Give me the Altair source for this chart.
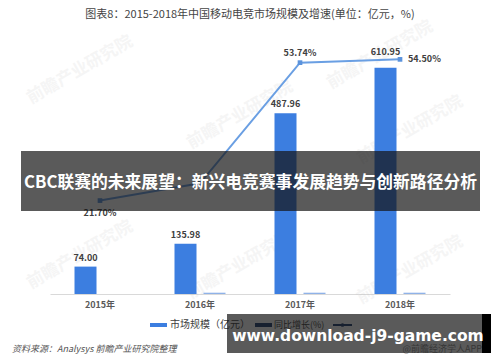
import altair as alt
import pandas as pd

years = ["2015年", "2016年", "2017年", "2018年"]
market = [74.00, 135.98, 487.96, 610.95]
market_labels = ["74.00", "135.98", "487.96", "610.95"]
growth = [21.70, 25.7, 53.74, 54.50]
growth_labels = ["21.70%", "", "53.74%", "54.50%"]
growth_bar = [0.0, 3.5, 3.5, 3.5]
series = ["市场规模（亿元）", "同比增长(%)"]

FONT = "Noto Sans CJK SC"

x_scale = alt.Scale(paddingInner=0.49, paddingOuter=0.245)
x_axis = alt.Axis(title=None, ticks=False, domainColor="#d9d9d9", labelColor="#595959",
                  labelFontSize=9, labelFontWeight="bold", labelPadding=6, labelFont=FONT,
                  grid=False, labelAngle=0)

bar_df = pd.DataFrame({
    "year": years * 2,
    "series": [series[0]] * 4 + [series[1]] * 4,
    "value": market + growth_bar,
})
mk_df = pd.DataFrame({"year": years, "value": market, "label": market_labels})
gr_df = pd.DataFrame({"year": years, "growth": growth, "label": growth_labels})

y_bar = alt.Scale(domain=[0, 686], nice=False, zero=True)
y_line = alt.Scale(domain=[0, 59], nice=False, zero=True)

bars = alt.Chart(bar_df).mark_bar().encode(
    x=alt.X("year:N", sort=years, scale=x_scale, axis=x_axis),
    xOffset=alt.XOffset("series:N", sort=series,
                        scale=alt.Scale(domain=series, paddingInner=0.241, paddingOuter=0)),
    y=alt.Y("value:Q", scale=y_bar, axis=None),
    color=alt.Color("series:N", scale=alt.Scale(domain=series, range=["#3c7ee0", "#8fb2e8"]),
                    legend=None),
)

mk_text = alt.Chart(mk_df).transform_filter(alt.datum.value < 600).mark_text(
    dx=-14.5, dy=-9, fontSize=9, fontWeight="bold", color="#404040", font=FONT, baseline="middle"
).encode(x=alt.X("year:N", sort=years, scale=x_scale, axis=x_axis),
         y=alt.Y("value:Q", scale=y_bar, axis=None), text="label:N")
mk_text2 = alt.Chart(mk_df).transform_filter(alt.datum.value >= 600).mark_text(
    dx=-14.5, dy=-16, fontSize=9, fontWeight="bold", color="#404040", font=FONT, baseline="middle"
).encode(x=alt.X("year:N", sort=years, scale=x_scale, axis=x_axis),
         y=alt.Y("value:Q", scale=y_bar, axis=None), text="label:N")

line = alt.Chart(gr_df).mark_line(color="#6a9fe3", strokeWidth=2).encode(
    x=alt.X("year:N", sort=years, scale=x_scale, axis=x_axis),
    y=alt.Y("growth:Q", scale=y_line, axis=None),
)
pts = alt.Chart(gr_df).mark_point(shape="square", filled=True, size=22, color="#5b93dc", opacity=1).encode(
    x=alt.X("year:N", sort=years, scale=x_scale, axis=x_axis),
    y=alt.Y("growth:Q", scale=y_line, axis=None),
)
gl_below = alt.Chart(gr_df).transform_filter(alt.datum.label == "21.70%").mark_text(
    dy=12, fontSize=9, fontWeight="bold", color="#404040", font=FONT, baseline="middle"
).encode(x=alt.X("year:N", sort=years, scale=x_scale, axis=x_axis),
         y=alt.Y("growth:Q", scale=y_line, axis=None), text="label:N")
gl_above = alt.Chart(gr_df).transform_filter(alt.datum.label == "53.74%").mark_text(
    dy=-10, fontSize=9, fontWeight="bold", color="#404040", font=FONT, baseline="middle"
).encode(x=alt.X("year:N", sort=years, scale=x_scale, axis=x_axis),
         y=alt.Y("growth:Q", scale=y_line, axis=None), text="label:N")
gl_right = alt.Chart(gr_df).transform_filter(alt.datum.label == "54.50%").mark_text(
    dx=8, fontSize=9, fontWeight="bold", color="#404040", font=FONT, baseline="middle", align="left"
).encode(x=alt.X("year:N", sort=years, scale=x_scale, axis=x_axis),
         y=alt.Y("growth:Q", scale=y_line, axis=None), text="label:N")

one = pd.DataFrame({"k": [0]})

def txt(s, x, y, **kw):
    return alt.Chart(one).mark_text(font=kw.pop("font", FONT), **kw).encode(
        x=alt.value(x), y=alt.value(y), text=alt.value(s))

def rect(x, x2, y, y2, **kw):
    return alt.Chart(one).mark_rect(**kw).encode(
        x=alt.value(x), x2=alt.value(x2), y=alt.value(y), y2=alt.value(y2))

title = txt("图表8：2015-2018年中国移动电竞市场规模及增速(单位：亿元，%)", 200, -25,
            fontSize=11, color="#444444", baseline="middle", align="center")

wm_pos = [(30, 30), (190, 75), (360, 90), (30, 215), (190, 225), (360, 230), (330, 15)]
watermarks = [txt("前瞻产业研究院", x, y, fontSize=17, angle=330, color="#b0b0b0", opacity=0.12,
                  baseline="middle", align="center", fontWeight="bold") for x, y in wm_pos]

leg = [
    rect(100, 117, 283, 287, color="#3c7ee0"),
    txt("市场规模（亿元）", 120, 285, fontSize=10, color="#404040", baseline="middle", align="left"),
    rect(205, 222, 283, 287, color="#1f3c6e"),
    txt("同比增长(%)", 224, 285, fontSize=9, color="#404040", baseline="middle", align="left"),
    alt.Chart(one).mark_rule(color="#1f3c6e", strokeWidth=2).encode(
        x=alt.value(283), x2=alt.value(302), y=alt.value(285)),
    alt.Chart(one).mark_point(shape="circle", filled=True, size=14, color="#1f3c6e", opacity=1).encode(
        x=alt.value(292.5), y=alt.value(285)),
]

source = txt("资料来源：Analysys 前瞻产业研究院整理", -38, 309, fontSize=9, color="#555555",
             fontStyle="italic", baseline="middle", align="left")
app = txt("@前瞻经济学人APP", 432, 309, fontSize=9, color="#8a8a8a", baseline="middle", align="right")

banner_top = rect(-29, 430, 111, 171, color="#141414", opacity=0.7)
banner_top_text = txt("CBC联赛的未来展望：新兴电竞赛事发展趋势与创新路径分析", 200.5, 143,
                      fontSize=16.8, fontWeight="bold", color="#ffffff", baseline="middle", align="center")
banner_bot = rect(177, 432, 274, 313, color="#141414", opacity=0.7)
banner_strip = rect(432, 441, 274, 313, color="#000000")
banner_bot_text = txt("www.download-j9-game.com", 308, 296, font="DejaVu Sans", fontSize=15.5,
                      fontWeight="bold", color="#ffffff", baseline="middle", align="center")

chart = alt.layer(
    *watermarks, bars, line, pts, mk_text, mk_text2, gl_below, gl_above, gl_right,
    title, *leg, source, app,
    banner_top, banner_top_text, banner_bot, banner_strip, banner_bot_text,
).resolve_scale(y="independent").properties(
    width=400, height=254,
    autosize=alt.AutoSizeParams(type="none"),
    padding={"left": 42, "top": 32, "right": 42, "bottom": 60},
    background="#ffffff",
).configure_view(strokeWidth=0)

chart.save("out.html", embed_options={"renderer": "svg", "actions": False})
